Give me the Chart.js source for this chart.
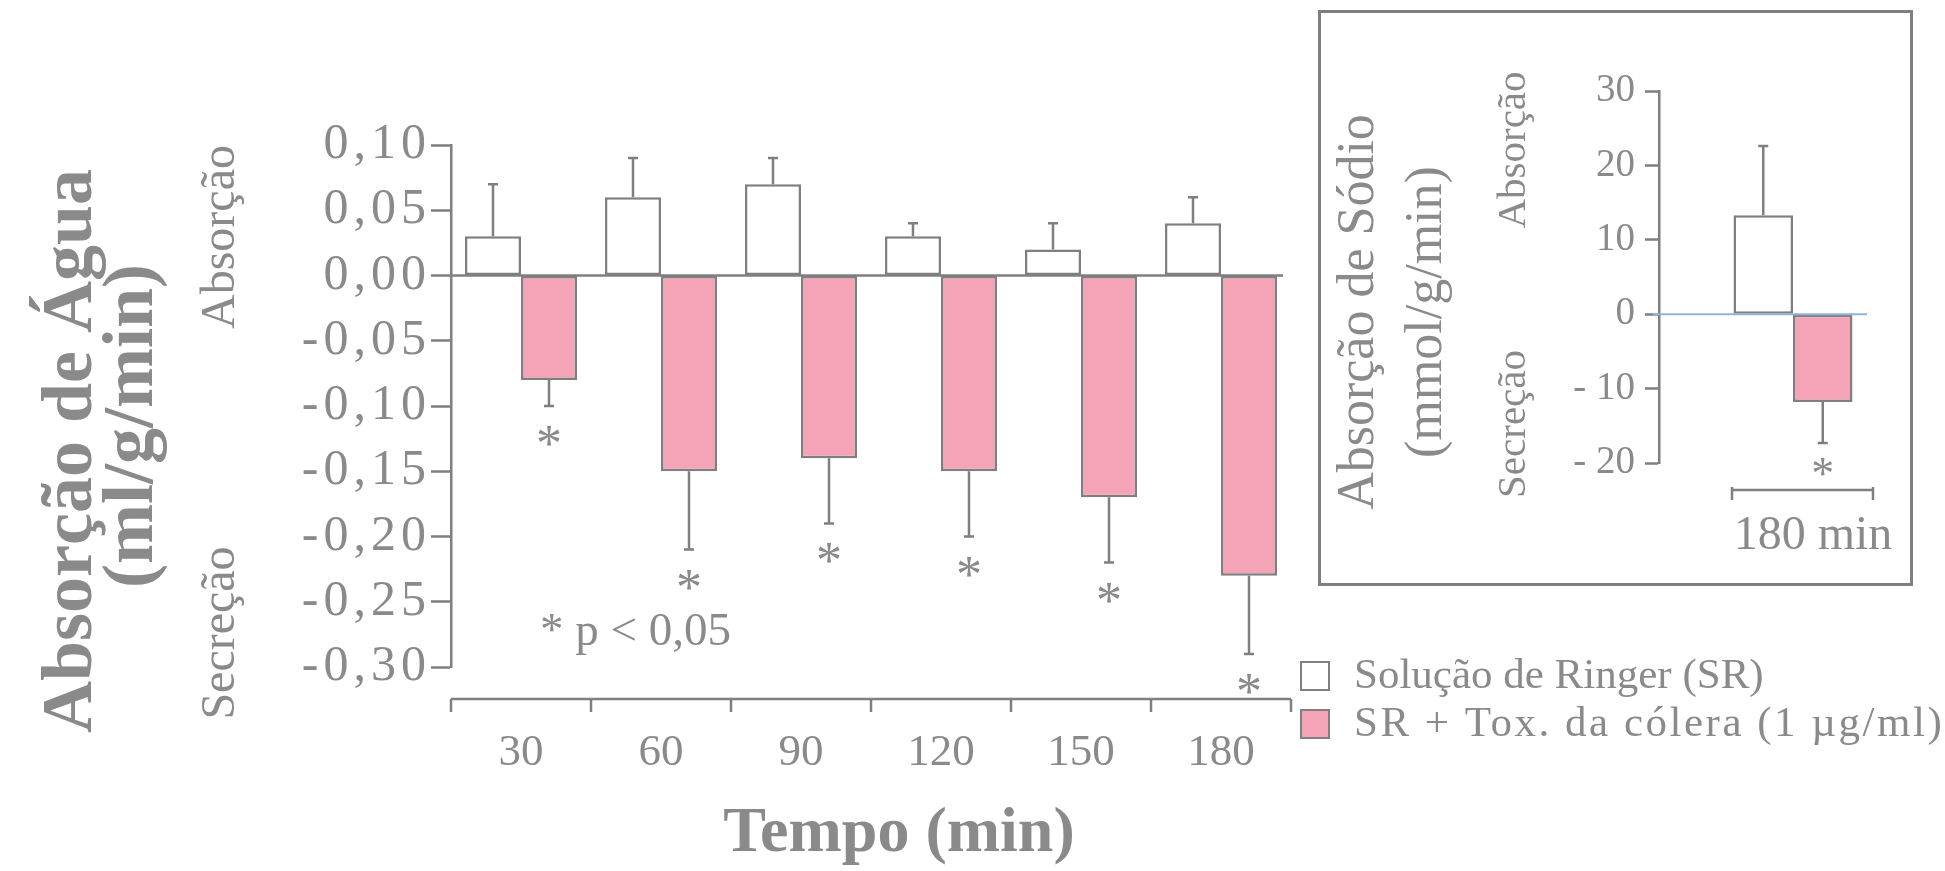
<!DOCTYPE html>
<html>
<head>
<meta charset="utf-8">
<script src="https://cdn.jsdelivr.net/npm/chart.js@4"></script>
<style>
  html, body { margin: 0; padding: 0; background: #fff; overflow: hidden; }
  #wrap { position: relative; width: 1945px; height: 871px; }
  #main { position: absolute; left: 0; top: 0; }
  #inset { position: absolute; left: 1318px; top: 10px; }
</style>
</head>
<body>
<div id="wrap">
  <canvas id="main" width="1945" height="871"></canvas>
  <canvas id="inset" width="627" height="600"></canvas>
</div>
<script>
'use strict';

// water absorption, ml/g/min
const timeLabels = ['30', '60', '90', '120', '150', '180'];
const ringerValues = [0.03, 0.06, 0.07, 0.03, 0.02, 0.04];
const ringerSem = [0.04, 0.03, 0.02, 0.01, 0.02, 0.02];
const toxinValues = [-0.08, -0.15, -0.14, -0.15, -0.17, -0.23];
const toxinSem = [0.02, 0.06, 0.05, 0.05, 0.05, 0.06];

// sodium absorption at 180 min, mmol/g/min
const sodiumLabels = ['180 min'];
const sodiumRinger = [13.3];
const sodiumRingerSem = [9.3];
const sodiumToxin = [-11.8];
const sodiumToxinSem = [5.5];

const seriesNames = ['Solução de Ringer (SR)', 'SR + Tox. da cólera (1 µg/ml)'];

const GRAY = '#7f7f7f';
const TEXT = '#8a8a8a';
const PINK = '#F5A3B7';
const SERIF = "'Liberation Serif', 'Times New Roman', serif";

function vText(ctx, txt, x, y, font) {
  ctx.save();
  ctx.translate(x, y);
  ctx.rotate(-Math.PI / 2);
  ctx.font = font;
  ctx.textAlign = 'center';
  ctx.textBaseline = 'middle';
  ctx.fillText(txt, 0, 0);
  ctx.restore();
}

// wider tracking for the y tick labels only (x tick labels sit on a later layer)
const tickSpacing = {
  id: 'tickSpacing',
  beforeDraw(chart, args, opts) { chart.ctx.letterSpacing = opts.spacing || '0px'; },
  beforeDatasetsDraw(chart) { chart.ctx.letterSpacing = '0px'; },
};

// one-sided error bars + significance stars
const errorBars = {
  id: 'errorBars',
  afterDatasetsDraw(chart, args, opts) {
    const { ctx } = chart;
    const y = chart.scales.y;
    ctx.save();
    ctx.strokeStyle = GRAY;
    ctx.lineWidth = 2.5;
    ctx.fillStyle = TEXT;
    ctx.font = `${opts.starSize}px ${SERIF}`;
    ctx.textAlign = 'center';
    ctx.textBaseline = 'alphabetic';
    chart.data.datasets.forEach((ds, di) => {
      chart.getDatasetMeta(di).data.forEach((bar, i) => {
        const v = ds.data[i];
        const py = y.getPixelForValue(v + Math.sign(v) * ds.sem[i]);
        ctx.beginPath();
        ctx.moveTo(bar.x, bar.y);
        ctx.lineTo(bar.x, py);
        ctx.moveTo(bar.x - 5, py);
        ctx.lineTo(bar.x + 5, py);
        ctx.stroke();
        if (ds.signif) ctx.fillText('*', bar.x, py + opts.starGap + opts.starSize * 0.5);
      });
    });
    ctx.restore();
  },
};

const mainDecor = {
  id: 'mainDecor',
  afterDraw(chart) {
    const { ctx, chartArea: a } = chart;
    const y0 = chart.scales.y.getPixelForValue(0);
    ctx.save();
    ctx.letterSpacing = '0px';
    ctx.strokeStyle = GRAY;
    ctx.lineWidth = 2.5;
    // zero line
    ctx.beginPath();
    ctx.moveTo(a.left, y0);
    ctx.lineTo(a.right - 8, y0);
    ctx.stroke();
    // detached time axis
    const ya = a.bottom + 32;
    const n = chart.data.labels.length;
    const step = (a.right - a.left) / n;
    ctx.beginPath();
    ctx.moveTo(a.left, ya);
    ctx.lineTo(a.right, ya);
    for (let i = 0; i <= n; i++) {
      ctx.moveTo(a.left + i * step, ya);
      ctx.lineTo(a.left + i * step, ya + 13);
    }
    ctx.stroke();

    ctx.fillStyle = TEXT;
    vText(ctx, 'Absorção de Água', 72, 451, `bold 72px ${SERIF}`);
    vText(ctx, '(ml/g/min)', 133, 426, `bold 72px ${SERIF}`);
    vText(ctx, 'Absorção', 221, 237, `48px ${SERIF}`);
    vText(ctx, 'Secreção', 221, 633, `48px ${SERIF}`);

    ctx.font = `47px ${SERIF}`;
    ctx.textAlign = 'left';
    ctx.textBaseline = 'middle';
    ctx.fillText('* p < 0,05', 540, 633);

    ctx.font = `bold 64px ${SERIF}`;
    ctx.textAlign = 'center';
    ctx.fillText('Tempo (min)', 899, 834);

    // legend
    chart.data.datasets.forEach((ds, i) => {
      const top = 662 + i * 48;
      ctx.fillStyle = ds.backgroundColor;
      ctx.fillRect(1301, top, 28, 28);
      ctx.lineWidth = 2;
      ctx.strokeRect(1301, top, 28, 28);
      ctx.fillStyle = TEXT;
      ctx.font = `43px ${SERIF}`;
      ctx.textAlign = 'left';
      ctx.letterSpacing = i === 0 ? '0px' : '2.5px';
      ctx.fillText(ds.label, 1354, top + 15);
    });
    ctx.restore();
  },
};

const insetDecor = {
  id: 'insetDecor',
  beforeDraw(chart) {
    const { ctx } = chart;
    ctx.save();
    ctx.strokeStyle = GRAY;
    ctx.lineWidth = 3;
    ctx.strokeRect(1.5, 1.5, 592, 573);
    ctx.restore();
  },
  afterDraw(chart) {
    const { ctx, chartArea: a } = chart;
    const y0 = chart.scales.y.getPixelForValue(0);
    const cx = chart.scales.x.getPixelForValue(0);
    ctx.save();
    ctx.strokeStyle = '#8FB4D8';
    ctx.lineWidth = 2;
    ctx.beginPath();
    ctx.moveTo(a.left - 6, y0);
    ctx.lineTo(cx + 74, y0);
    ctx.stroke();

    const ya = 480;
    ctx.strokeStyle = GRAY;
    ctx.lineWidth = 2.5;
    ctx.beginPath();
    ctx.moveTo(cx - 61, ya);
    ctx.lineTo(cx + 80, ya);
    ctx.moveTo(cx - 61, ya - 3);
    ctx.lineTo(cx - 61, ya + 10);
    ctx.moveTo(cx + 80, ya - 3);
    ctx.lineTo(cx + 80, ya + 10);
    ctx.stroke();

    ctx.fillStyle = TEXT;
    ctx.font = `48px ${SERIF}`;
    ctx.textAlign = 'center';
    ctx.textBaseline = 'middle';
    ctx.fillText(chart.data.labels[0], cx + 20, 526);

    vText(ctx, 'Absorção de Sódio', 41, 302, `52px ${SERIF}`);
    vText(ctx, '(mmol/g/min)', 109, 302, `52px ${SERIF}`);
    vText(ctx, 'Absorção', 196, 140, `41px ${SERIF}`);
    vText(ctx, 'Secreção', 196, 414, `41px ${SERIF}`);
    ctx.restore();
  },
};

function barSet(label, data, sem, fill, signif) {
  return {
    label, data, sem, signif,
    backgroundColor: fill,
    borderColor: GRAY,
    borderWidth: 2.5,
    borderSkipped: false,
  };
}

new Chart(document.getElementById('main'), {
  type: 'bar',
  data: {
    labels: timeLabels,
    datasets: [
      barSet(seriesNames[0], ringerValues, ringerSem, '#ffffff', false),
      barSet(seriesNames[1], toxinValues, toxinSem, PINK, true),
    ],
  },
  plugins: [tickSpacing, errorBars, mainDecor],
  options: {
    responsive: false,
    animation: false,
    layout: { padding: { top: 145, right: 654, left: 0, bottom: 0 } },
    datasets: { bar: { categoryPercentage: 0.8, barPercentage: 1 } },
    plugins: {
      legend: { display: false },
      tooltip: { enabled: false },
      tickSpacing: { spacing: '5px' },
      errorBars: { starSize: 52, starGap: 29 },
    },
    scales: {
      x: {
        grid: { display: false, drawTicks: false },
        border: { display: false },
        ticks: { z: 1, color: TEXT, font: { family: SERIF, size: 45 }, padding: 59 },
        afterFit: s => { s.height = 204; },
      },
      y: {
        min: -0.3,
        max: 0.1,
        ticks: {
          stepSize: 0.05,
          color: TEXT,
          font: { family: SERIF, size: 50 },
          padding: 0,
          callback: v => (Math.abs(v) < 1e-9 ? 0 : v).toFixed(2).replace('.', ','),
        },
        grid: { drawOnChartArea: false, tickLength: 20, tickColor: GRAY, tickWidth: 2.5 },
        border: { color: GRAY, width: 2.5 },
        afterFit: s => { s.width = 451; },
      },
    },
  },
});

new Chart(document.getElementById('inset'), {
  type: 'bar',
  data: {
    labels: sodiumLabels,
    datasets: [
      barSet(seriesNames[0], sodiumRinger, sodiumRingerSem, '#ffffff', false),
      barSet(seriesNames[1], sodiumToxin, sodiumToxinSem, PINK, true),
    ],
  },
  plugins: [errorBars, insetDecor],
  options: {
    responsive: false,
    animation: false,
    layout: { padding: { top: 81, right: 18, left: 0, bottom: 147 } },
    datasets: { bar: { categoryPercentage: 0.444, barPercentage: 1 } },
    plugins: {
      legend: { display: false },
      tooltip: { enabled: false },
      errorBars: { starSize: 46, starGap: 23 },
    },
    scales: {
      x: { display: false },
      y: {
        min: -20,
        max: 30,
        ticks: {
          stepSize: 10,
          color: TEXT,
          font: { family: SERIF, size: 39 },
          padding: 10,
          callback: v => (v < 0 ? '- ' + Math.abs(v) : String(v)),
        },
        grid: { drawOnChartArea: false, tickLength: 14, tickColor: GRAY, tickWidth: 2.5 },
        border: { color: GRAY, width: 2.5 },
        afterFit: s => { s.width = 341; },
      },
    },
  },
});
</script>
</body>
</html>
